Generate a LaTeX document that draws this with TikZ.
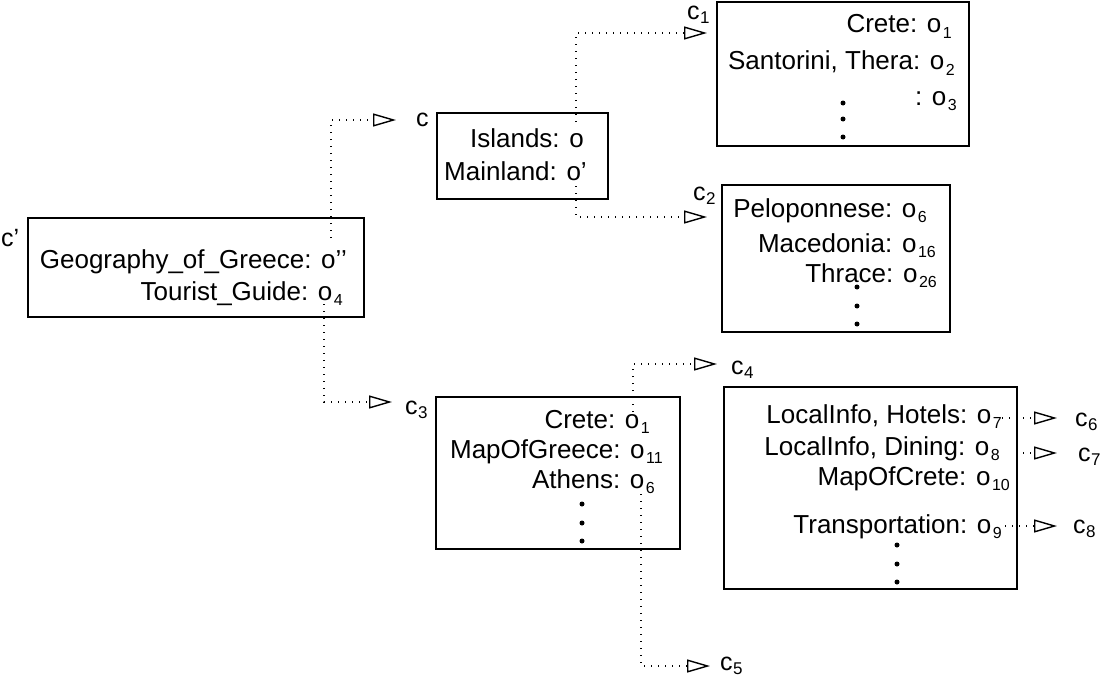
\documentclass[tikz,border=0pt]{standalone}
\usepackage{fontspec}
\setmainfont{Liberation Sans}
\usetikzlibrary{arrows.meta}
% lowered index after an object id or a context name
\newcommand\ix[1]{\kern1.5pt\raisebox{-5.5pt}{\fontsize{16}{16}\selectfont #1}}
\newcommand\cx[1]{\kern0.5pt\raisebox{-4pt}{\fontsize{17}{17}\selectfont #1}}
\begin{document}
\begin{tikzpicture}[x=1pt,y=-1pt,
  frame/.style={draw,line width=1.2pt,inner sep=0pt},
  entry/.style={inner sep=0pt,anchor=base east,font=\fontsize{26}{30}\selectfont},
  ctx/.style={inner sep=0pt,anchor=west,text height=13pt,text depth=0pt,font=\fontsize{25}{30}\selectfont},
  link/.style={line width=1.2pt,dash pattern=on 1.2pt off 5.8pt,
    -{Triangle[open,length=23pt,width=13pt,line width=1.4pt]}},
  dot/.style={fill=black}]
\useasboundingbox (0,0) rectangle (1102,677);

% ---- context c'
\node[frame,minimum width=336pt,minimum height=99pt] (bp) at (196,267.5) {};
\node[ctx] (lp) at (1,240) {c’};
\node[entry] (gog) at (347,268) {Geography\_of\_Greece: o’’};
\node[entry] (tg) at (343,300) {Tourist\_Guide: o\ix{4}};

% ---- context c
\node[frame,minimum width=171pt,minimum height=86pt] (bc) at (522.5,156) {};
\node[ctx] (lc) at (416,120) {c};
\node[entry] (isl) at (584,147) {Islands: o};
\node[entry] (mld) at (587,180) {Mainland: o’};

% ---- context c1
\node[frame,minimum width=252pt,minimum height=144pt] (bc1) at (843,74) {};
\node[ctx] (lc1) at (687,13) {c\cx{1}};
\node[entry] (cr1) at (952,33) {Crete: o\ix{1}};
\node[entry] (san) at (955,70) {Santorini, Thera: o\ix{2}};
\node[entry] (o3) at (957,105) {: o\ix{3}};
\foreach \y in {103,119,137} \fill[dot] (843,\y) circle (2.5pt);

% ---- context c2
\node[frame,minimum width=228pt,minimum height=147pt] (bc2) at (836,258.5) {};
\node[ctx] (lc2) at (693,194) {c\cx{2}};
\node[entry] (pel) at (927,217) {Peloponnese: o\ix{6}};
\node[entry] (mac) at (936,252) {Macedonia: o\ix{16}};
\node[entry] (thr) at (937,282) {Thrace: o\ix{26}};
\foreach \y in {287,306,324} \fill[dot] (857,\y) circle (2.5pt);

% ---- context c3
\node[frame,minimum width=244pt,minimum height=152pt] (bc3) at (558,473) {};
\node[ctx] (lc3) at (405,408) {c\cx{3}};
\node[entry] (cr3) at (650,428) {Crete: o\ix{1}};
\node[entry] (mog) at (663,458) {MapOfGreece: o\ix{11}};
\node[entry] (ath) at (655,488) {Athens: o\ix{6}};
\foreach \y in {504,523,541} \fill[dot] (582,\y) circle (2.5pt);

% ---- context c4
\node[frame,minimum width=293pt,minimum height=202pt] (bc4) at (870.5,488) {};
\node[ctx] (lc4) at (731,368) {c\cx{4}};
\node[entry] (hot) at (1002,423) {LocalInfo, Hotels: o\ix{7}};
\node[entry] (din) at (1000,455) {LocalInfo, Dining: o\ix{8}};
\node[entry] (moc) at (1010,485) {MapOfCrete: o\ix{10}};
\node[entry] (tra) at (1002,533) {Transportation: o\ix{9}};
\foreach \y in {545,564,582} \fill[dot] (897,\y) circle (2.5pt);

% ---- target contexts reached from c3 and c4
\node[ctx] (lc5) at (720,664) {c\cx{5}};
\node[ctx] (lc6) at (1075,420) {c\cx{6}};
\node[ctx] (lc7) at (1078,455) {c\cx{7}};
\node[ctx] (lc8) at (1073,527) {c\cx{8}};

% ---- link start points (at the object ids) and arrow ends
\coordinate (s1) at (331,238);  \coordinate (t1) at (396,120);
\coordinate (s2) at (576,122);  \coordinate (t2) at (707,33);
\coordinate (s3) at (576,186);  \coordinate (t3) at (707,217);
\coordinate (s4) at (324,304);  \coordinate (t4) at (392,402);
\coordinate (s5) at (633,412);  \coordinate (t5) at (717,364);
\coordinate (s6) at (641,494);  \coordinate (t6) at (710,666);
\coordinate (s7) at (1002,418); \coordinate (t7) at (1057,418);
\coordinate (s8) at (1016,453); \coordinate (t8) at (1057,453);
\coordinate (s9) at (1005,526); \coordinate (t9) at (1057,526);

\draw[link] (s1) |- (t1);
\draw[link] (s2) |- (t2);
\draw[link] (s3) |- (t3);
\draw[link] (s4) |- (t4);
\draw[link] (s5) |- (t5);
\draw[link] (s6) |- (t6);
\draw[link] (s7) -- (t7);
\draw[link] (s8) -- (t8);
\draw[link] (s9) -- (t9);
\end{tikzpicture}
\end{document}
